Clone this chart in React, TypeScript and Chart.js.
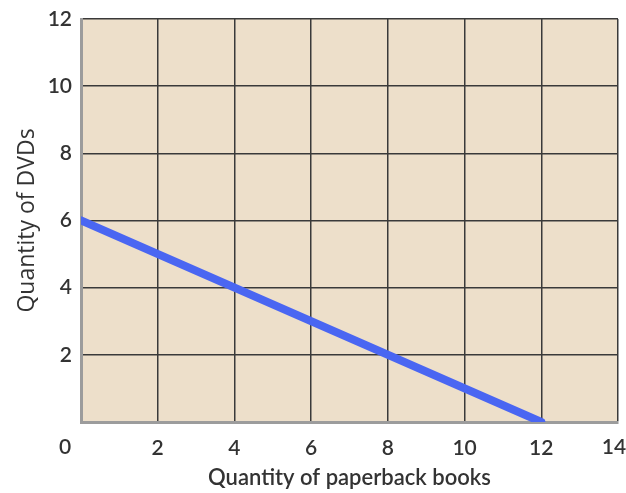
import React, { useEffect, useRef } from "react";
import { Chart, registerables } from "chart.js";

Chart.register(...registerables);

const budgetX = [0, 12];
const budgetY = [6, 0];
const xTicks = [0, 2, 4, 6, 8, 10, 12, 14];
const yTicks = [0, 2, 4, 6, 8, 10, 12];
const xTitle = "Quantity of paperback books";
const yTitle = "Quantity of DVDs";

const TICK_FONT = { family: "Lato", size: 21, weight: 600 as any };
// end labels that sit off their grid line in the reference, with their shift in px
const shiftedXLabels: [number, number][] = [
  [0, -16],
  [14, -4],
];

const edgeLabels = {
  id: "edgeLabels",
  afterDraw(chart: any) {
    const ctx = chart.ctx;
    const xs = chart.scales.x;
    ctx.save();
    ctx.font = "600 21px Lato";
    ctx.fillStyle = "#333333";
    ctx.textAlign = "center";
    ctx.textBaseline = "middle";
    shiftedXLabels.forEach(([v, dx]) => {
      ctx.fillText(String(v), xs.getPixelForValue(v) + dx, 447);
    });
    ctx.restore();
  },
};

const bgPlugin = {
  id: "plotBg",
  beforeDraw(chart: any) {
    const { ctx, chartArea } = chart;
    ctx.save();
    ctx.fillStyle = "#EDDFCA";
    ctx.fillRect(chartArea.left, chartArea.top, chartArea.right - chartArea.left, chartArea.bottom - chartArea.top);
    ctx.restore();
  },
};

export default function App() {
  const ref = useRef<HTMLCanvasElement>(null);
  useEffect(() => {
    if (!ref.current) return;
    const chart = new Chart(ref.current, {
      type: "scatter",
      data: {
        datasets: [
          {
            data: budgetX.map((x, i) => ({ x, y: budgetY[i] })),
            showLine: true,
            borderColor: "#4A66F2",
            borderWidth: 8,
            borderCapStyle: "round",
            pointRadius: 0,
          },
        ],
      },
      plugins: [bgPlugin, edgeLabels],
      options: {
        animation: false,
        responsive: false,
        layout: { padding: { top: 19, right: 8, left: 0, bottom: 0 } },
        plugins: { legend: { display: false }, tooltip: { enabled: false } },
        scales: {
          x: {
            type: "linear",
            min: 0,
            max: 14,
            afterBuildTicks: (s: any) => {
              s.ticks = xTicks.map((v) => ({ value: v }));
            },
            afterFit: (s: any) => {
              s.height = 71;
              s.paddingLeft = 0;
              s.paddingRight = 0;
            },
            grid: { color: "#3a3a3a", lineWidth: 1.5, drawTicks: false },
            border: { color: "#9c9c9c", width: 3 },
            ticks: {
              padding: 14,
              color: "#333333",
              font: TICK_FONT,
              maxRotation: 0,
              callback: (v: any) => (shiftedXLabels.some(([s]) => s === v) ? "" : String(v)),
            },
            title: {
              display: true,
              text: xTitle,
              color: "#333333",
              font: { family: "Lato", size: 22, weight: 600 as any },
              padding: { top: 0, bottom: 2 },
            },
          },
          y: {
            type: "linear",
            min: 0,
            max: 12,
            afterBuildTicks: (s: any) => {
              s.ticks = yTicks.map((v) => ({ value: v }));
            },
            afterFit: (s: any) => {
              s.width = 81;
              s.paddingTop = 0;
              s.paddingBottom = 0;
            },
            grid: { color: "#3a3a3a", lineWidth: 1.5, drawTicks: false },
            border: { color: "#9c9c9c", width: 3 },
            ticks: {
              padding: 9,
              color: "#333333",
              font: TICK_FONT,
              callback: (v: any) => (v === 0 ? "" : String(v)),
            },
            title: {
              display: true,
              text: yTitle,
              color: "#333333",
              font: { family: "Open Sans", size: 23 },
              padding: { top: 14, bottom: 0 },
            },
          },
        },
      },
    });
    return () => chart.destroy();
  }, []);
  return (
    <div style={{ position: "fixed", left: 0, top: 0, width: 626, height: 493, background: "#fff" }}>
      <canvas ref={ref} width={626} height={493} />
    </div>
  );
}
